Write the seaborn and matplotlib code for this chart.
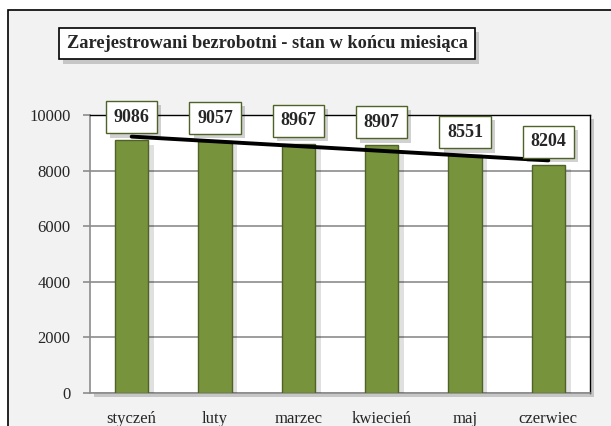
import numpy as np
import pandas as pd
import matplotlib.pyplot as plt
import matplotlib.patheffects as pe
from matplotlib.patches import Rectangle
import seaborn as sns

months = ['styczeń', 'luty', 'marzec', 'kwiecień', 'maj', 'czerwiec']
values = [9086, 9057, 8967, 8907, 8551, 8204]
yticks = [0, 2000, 4000, 6000, 8000, 10000]
title = 'Zarejestrowani bezrobotni - stan w końcu miesiąca'

df = pd.DataFrame({'miesiac': months, 'bezrobotni': values})

sns.set_style('white')
plt.rcParams['font.family'] = ['Liberation Serif', 'DejaVu Serif']

green = '#77933c'
dark_green = '#4f6228'
shadow = [pe.SimplePatchShadow(offset=(3, -3), shadow_rgbFace='k', alpha=0.18), pe.Normal()]
soft = [pe.SimplePatchShadow(offset=(4, -3), shadow_rgbFace='k', alpha=0.12), pe.Normal()]

fig = plt.figure(figsize=(6.11, 4.26), dpi=100, facecolor='white')

# outer chart frame
frame = Rectangle((8 / 611, -0.05), 1.1, 1.05 - 10 / 426, transform=fig.transFigure,
                  facecolor='#f2f2f2', edgecolor='black', lw=1.2, zorder=-10)
fig.patches.append(frame)

ax = fig.add_axes([90 / 611, 33 / 426, 500 / 611, 278 / 426])
ax.patch.set_facecolor('white')
ax.patch.set_path_effects(shadow)

sns.barplot(data=df, x='miesiac', y='bezrobotni', color=green, width=0.4,
            edgecolor=dark_green, linewidth=1, saturation=1, ax=ax, zorder=3)
for bar in ax.patches:
    bar.set_path_effects(soft)

# linear trend
x = np.arange(len(values))
k, b = np.polyfit(x, values, 1)
ax.plot(x, k * x + b, color='black', lw=2.8, zorder=4, solid_capstyle='round')

# value labels
for xi, v in zip(x, values):
    t = ax.annotate(str(v), (xi, v), xytext=(0, 23), textcoords='offset pixels',
                    ha='center', va='center', fontsize=13, fontweight='bold', zorder=6,
                    bbox=dict(boxstyle='square,pad=0.42', fc='white', ec=dark_green, lw=1))
    t.get_bbox_patch().set_path_effects(shadow)

ax.set_ylim(0, 10000)
ax.set_xlim(-0.5, len(values) - 0.5)
ax.set_yticks(yticks)
ax.set_yticklabels([str(v) for v in yticks])
ax.yaxis.grid(True, color='#8c8c8c', lw=1.2, zorder=1)
ax.set_axisbelow(True)
ax.set_xlabel('')
ax.set_ylabel('')

ax.set_xticks(x, minor=False)
ax.set_xticks(np.arange(-0.5, len(values)), minor=True)
ax.tick_params(axis='x', which='major', length=0, pad=13, labelsize=12)
ax.tick_params(axis='x', which='minor', length=5, color='#8c8c8c', width=1.2, direction='out')
ax.tick_params(axis='y', length=5, color='#8c8c8c', width=1.2, pad=9, labelsize=12, left=True)

for side in ['left', 'bottom']:
    ax.spines[side].set_color('#8c8c8c')
    ax.spines[side].set_linewidth(1.2)
for side in ['top', 'right']:
    ax.spines[side].set_visible(True)
    ax.spines[side].set_color('black')
    ax.spines[side].set_linewidth(1)

tt = fig.text(267 / 611, 1 - 43.5 / 426, title, ha='center', va='center',
              fontsize=13.2, fontweight='bold',
              bbox=dict(boxstyle='square,pad=0.4', fc='white', ec='black', lw=1.2))
tt.get_bbox_patch().set_path_effects(shadow)

fig.savefig('out.png', dpi=100, facecolor=fig.get_facecolor())
